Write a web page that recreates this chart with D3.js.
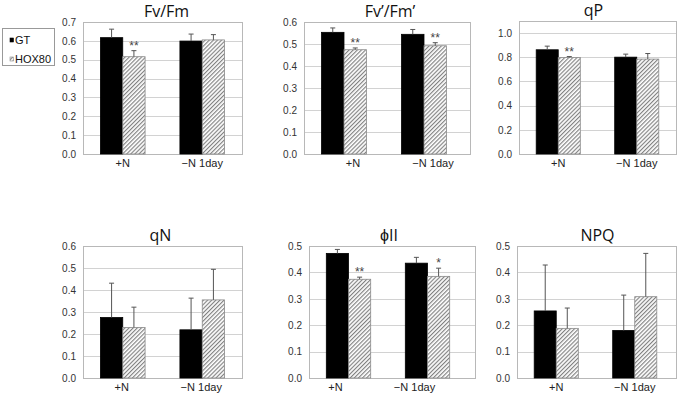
<!DOCTYPE html>
<html>
<head>
<meta charset="utf-8">
<script src="https://cdn.jsdelivr.net/npm/d3@7"></script>
<style>
  body { margin: 0; background: #fff; }
  svg { display: block; }
</style>
</head>
<body>
<script>
// data (mean and SD, GT vs HOX80)
const categories = ["+N", "\u2212N 1day"];
const seriesNames = ["GT", "HOX80"];
const panelTitles = ["Fv/Fm", "Fv\u2019/Fm\u2019", "qP", "qN", "\u03D5II", "NPQ"];
const gtMeans = [[0.617, 0.599], [0.553, 0.544], [0.862, 0.801], [0.275, 0.219], [0.472, 0.435], [0.254, 0.180]];
const gtErrors = [[0.045, 0.037], [0.020, 0.022], [0.030, 0.025], [0.156, 0.144], [0.015, 0.022], [0.174, 0.134]];
const hoxMeans = [[0.516, 0.605], [0.474, 0.492], [0.798, 0.785], [0.230, 0.355], [0.374, 0.385], [0.188, 0.308]];
const hoxErrors = [[0.032, 0.028], [0.008, 0.014], [0.008, 0.046], [0.092, 0.139], [0.008, 0.031], [0.077, 0.164]];
const hoxStars = [["**", ""], ["**", "**"], ["**", ""], ["", ""], ["**", "*"], ["", ""]];
const yMax = [0.7, 0.6, 1.1, 0.6, 0.5, 0.5];
const yStep = [0.1, 0.1, 0.2, 0.1, 0.1, 0.1];

// where each panel sits on the page
const layout = [
    {box: [83, 242], bars: [83, 242], top: 22, bottom: 154, labelDx: 0, titleDx: 4},
    {box: [304, 470], bars: [304, 464], top: 22, bottom: 154, labelDx: 9, titleDx: 3},
    {box: [519, 676], bars: [519, 676], top: 21, bottom: 154, labelDx: 0, titleDx: -4},
    {box: [83, 242], bars: [83, 242], top: 246, bottom: 378, labelDx: -1, titleDx: -2},
    {box: [309, 475], bars: [309, 467], top: 246, bottom: 378, labelDx: -13, titleDx: -3},
    {box: [517, 676], bars: [517, 674], top: 246, bottom: 378, labelDx: 0, titleDx: 1}
];

const svg = d3.select("body").append("svg")
    .attr("width", 680)
    .attr("height", 397);

// hatch for HOX80
const defs = svg.append("defs");
const pat = defs.append("pattern")
    .attr("id", "hatch")
    .attr("patternUnits", "userSpaceOnUse")
    .attr("width", 2.9)
    .attr("height", 2.9)
    .attr("patternTransform", "rotate(45)");
pat.append("rect").attr("width", 2.9).attr("height", 2.9).attr("fill", "#fff");
pat.append("line")
    .attr("x1", 0.6).attr("y1", 0).attr("x2", 0.6).attr("y2", 2.9)
    .attr("stroke", "#7a7a7a")
    .attr("stroke-width", 1.1);

const fills = ["#000", "url(#hatch)"];
const strokes = ["#000", "#8a8a8a"];

class BarPanel {

    constructor(config, data) {
        this.config = config;
        this.data = data;
        this.init();
    }

    init() {
        let self = this;
        const c = self.config;

        self.chart = svg.append("g");

        self.yscale = d3.scaleLinear()
            .domain([0, c.yMax])
            .range([c.bottom, c.top]);

        self.xscale = d3.scaleBand()
            .domain(categories)
            .range(c.bars);

        self.sscale = d3.scaleBand()
            .domain(seriesNames)
            .range([0, self.xscale.bandwidth()])
            .paddingOuter(0.78);

        const ticks = d3.range(0, c.yMax + 1e-9, c.yStep);

        // gridlines
        self.chart.append("g")
            .selectAll("line")
            .data(ticks)
            .join("line")
            .attr("x1", c.box[0])
            .attr("x2", c.box[1])
            .attr("y1", d => Math.round(self.yscale(d)) + 0.5)
            .attr("y2", d => Math.round(self.yscale(d)) + 0.5)
            .attr("stroke", "#d2d2d2");

        self.chart.append("rect")
            .attr("x", c.box[0] + 0.5)
            .attr("y", Math.round(c.top) + 0.5)
            .attr("width", c.box[1] - c.box[0])
            .attr("height", Math.round(c.bottom) - Math.round(c.top))
            .attr("fill", "none")
            .attr("stroke", "#b8b8b8");

        const yaxis = d3.axisLeft(self.yscale)
            .tickValues(ticks)
            .tickFormat(d3.format(".1f"))
            .tickSize(0)
            .tickPadding(7);

        self.chart.append("g")
            .attr("transform", "translate(" + c.box[0] + ",0)")
            .call(yaxis)
            .call(g => g.select(".domain").remove())
            .selectAll("text")
            .attr("font-family", "Liberation Sans, Arial, sans-serif")
            .attr("font-size", 10)
            .attr("fill", "#333");

        const xaxis = d3.axisBottom(self.xscale)
            .tickSize(0)
            .tickPadding(5);

        self.chart.append("g")
            .attr("transform", "translate(0," + c.bottom + ")")
            .call(xaxis)
            .call(g => g.select(".domain").remove())
            .selectAll("text")
            .attr("dx", c.labelDx)
            .attr("font-family", "Liberation Sans, Arial, sans-serif")
            .attr("font-size", 11)
            .attr("fill", "#222");

        self.chart.append("text")
            .attr("x", (c.box[0] + c.box[1]) / 2 + c.titleDx)
            .attr("y", c.top - 5)
            .attr("text-anchor", "middle")
            .attr("font-family", "Open Sans, Liberation Sans, sans-serif")
            .attr("font-size", 16)
            .attr("fill", "#111")
            .text(c.title);
    }

    render() {
        let self = this;
        const bw = self.sscale.bandwidth();

        const groups = self.chart.append("g")
            .selectAll("g")
            .data(self.data)
            .join("g")
            .attr("transform", d => "translate(" + self.xscale(d.category) + ",0)");

        const bars = groups.selectAll("g")
            .data(d => d.values)
            .join("g");

        bars.append("rect")
            .attr("x", (d, i) => self.sscale(seriesNames[i]))
            .attr("y", d => self.yscale(d.mean))
            .attr("width", bw)
            .attr("height", d => self.yscale(0) - self.yscale(d.mean))
            .attr("fill", (d, i) => fills[i])
            .attr("stroke", (d, i) => strokes[i])
            .attr("stroke-width", 0.8);

        // error bars, upward only
        bars.append("line")
            .attr("x1", (d, i) => self.sscale(seriesNames[i]) + bw / 2)
            .attr("x2", (d, i) => self.sscale(seriesNames[i]) + bw / 2)
            .attr("y1", d => self.yscale(d.mean))
            .attr("y2", d => self.yscale(d.mean + d.err))
            .attr("stroke", "#555")
            .attr("stroke-width", 1);

        bars.append("line")
            .attr("x1", (d, i) => self.sscale(seriesNames[i]) + bw / 2 - 2.5)
            .attr("x2", (d, i) => self.sscale(seriesNames[i]) + bw / 2 + 2.5)
            .attr("y1", d => self.yscale(d.mean + d.err))
            .attr("y2", d => self.yscale(d.mean + d.err))
            .attr("stroke", "#555")
            .attr("stroke-width", 1);

        bars.append("text")
            .attr("x", (d, i) => self.sscale(seriesNames[i]) + bw / 2)
            .attr("y", d => self.yscale(d.mean + d.err) - 1)
            .attr("text-anchor", "middle")
            .attr("font-family", "Liberation Sans, Arial, sans-serif")
            .attr("font-size", 12)
            .attr("fill", "#444")
            .text(d => d.star);
    }
}

panelTitles.forEach((title, p) => {
    const data = categories.map((cat, k) => ({
        category: cat,
        values: [
            {mean: gtMeans[p][k], err: gtErrors[p][k], star: ""},
            {mean: hoxMeans[p][k], err: hoxErrors[p][k], star: hoxStars[p][k]}
        ]
    }));
    const config = Object.assign({title: title, yMax: yMax[p], yStep: yStep[p]}, layout[p]);
    const panel = new BarPanel(config, data);
    panel.render();
});

// legend
const legend = svg.append("g");
legend.append("rect")
    .attr("x", 2.5).attr("y", 28.5)
    .attr("width", 52).attr("height", 37)
    .attr("fill", "#fff")
    .attr("stroke", "#999");

const items = legend.selectAll("g")
    .data(seriesNames)
    .join("g")
    .attr("transform", (d, i) => "translate(10," + (40 + i * 19) + ")");

items.append("rect")
    .attr("x", 0).attr("y", -2)
    .attr("width", 3.5).attr("height", 4)
    .attr("fill", (d, i) => fills[i])
    .attr("stroke", (d, i) => strokes[i])
    .attr("stroke-width", 0.6);

items.append("text")
    .attr("x", 5)
    .attr("y", 4)
    .attr("font-family", "Liberation Sans, Arial, sans-serif")
    .attr("font-size", 11)
    .attr("fill", "#111")
    .text(d => d);
</script>
</body>
</html>
